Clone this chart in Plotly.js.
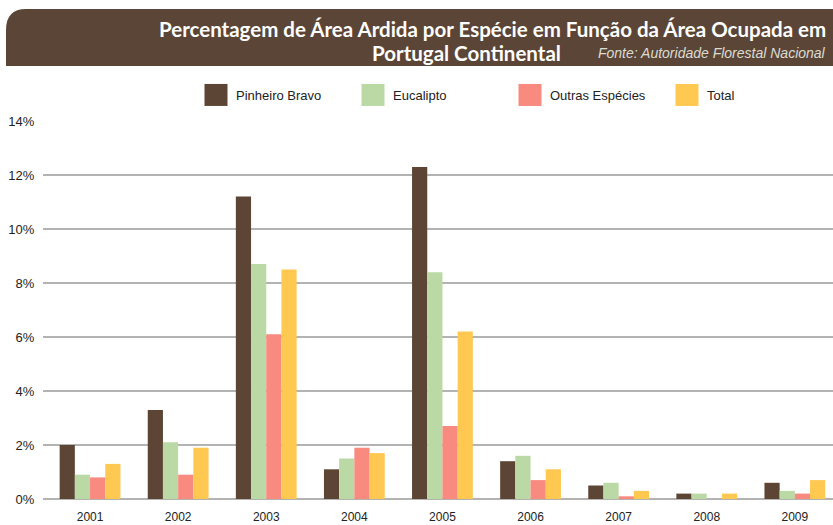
<!DOCTYPE html>
<html>
<head>
<meta charset="utf-8">
<script src="https://cdn.plot.ly/plotly-3.0.1.min.js"></script>
<style>
  html, body { margin: 0; padding: 0; background: #fff; }
  #chart { width: 833px; height: 525px; }
</style>
</head>
<body>
<div id="chart"></div>
<script>
// Anos
const years = ["2001", "2002", "2003", "2004", "2005", "2006", "2007", "2008", "2009"];

// Percentagens por espécie
const pinheiroBravo = [2.0, 3.3, 11.2, 1.1, 12.3, 1.4, 0.5, 0.2, 0.6];
const eucalipto     = [0.9, 2.1, 8.7, 1.5, 8.4, 1.6, 0.6, 0.2, 0.3];
const outras        = [0.8, 0.9, 6.1, 1.9, 2.7, 0.7, 0.1, 0.0, 0.2];
const total         = [1.3, 1.9, 8.5, 1.7, 6.2, 1.1, 0.3, 0.2, 0.7];

const seriesNames = ["Pinheiro Bravo", "Eucalipto", "Outras Espécies", "Total"];
const seriesColors = ["#5c4535", "#bad9a5", "#f88a80", "#ffc850"];

const yTicks = [0, 2, 4, 6, 8, 10, 12, 14];

const titleLine1 = "Percentagem de Área Ardida por Espécie em Função da Área Ocupada em";
const titleLine2 = "Portugal Continental";
const fonte = "Fonte: Autoridade Florestal Nacional";

const allValues = [pinheiroBravo, eucalipto, outras, total];

const traces = allValues.map((vals, i) => ({
  x: years,
  y: vals,
  type: "bar",
  name: seriesNames[i],
  marker: { color: seriesColors[i] },
  hoverinfo: "none"
}));

// área do gráfico: l=43, r=0, t=121, b=26 -> 790 x 378 px
const W = 790, H = 378, L = 43, T = 121;
const px = (x) => (x - L) / W;
const py = (y) => (T + H - y) / H;

// faixa do título com canto arredondado
const x0 = px(6), x1 = px(833), yt = py(9), yb = py(66);
const rx = 20 / W, ry = 21 / H;
const headerPath = `M ${x0},${yb} L ${x0},${yt - ry} Q ${x0},${yt} ${x0 + rx},${yt} L ${x1},${yt} L ${x1},${yb} Z`;

const titleFont = { family: "Lato, sans-serif", size: 20.5, color: "#fff" };

const layout = {
  width: 833,
  height: 525,
  margin: { l: L, r: 0, t: T, b: 26 },
  paper_bgcolor: "#fff",
  plot_bgcolor: "#fff",
  barmode: "group",
  bargap: 0.31,
  bargroupgap: 0,
  font: { family: "Liberation Sans, Arial, sans-serif", color: "#222" },
  xaxis: {
    type: "category",
    range: [-0.534, 8.433],
    showgrid: false,
    zeroline: false,
    showline: false,
    ticks: "outside",
    ticklen: 7,
    tickcolor: "rgba(0,0,0,0)",
    tickfont: { size: 12, color: "#222" }
  },
  yaxis: {
    range: [0, 14],
    tickvals: yTicks,
    ticktext: yTicks.map(v => v + "%"),
    showgrid: true,
    gridcolor: "#b3b3b3",
    gridwidth: 1.5,
    zeroline: true,
    zerolinecolor: "#b3b3b3",
    zerolinewidth: 1.5,
    showline: false,
    ticks: "outside",
    ticklen: 5,
    tickcolor: "rgba(0,0,0,0)",
    tickfont: { size: 13, color: "#222" }
  },
  showlegend: true,
  legend: {
    orientation: "h",
    x: px(196),
    xanchor: "left",
    y: py(95),
    yanchor: "middle",
    font: { size: 13, color: "#222" },
    itemwidth: 30,
    entrywidth: 112,
    bgcolor: "rgba(0,0,0,0)"
  },
  shapes: [{
    type: "path",
    xref: "paper",
    yref: "paper",
    path: headerPath,
    fillcolor: "#5b4537",
    line: { width: 0 },
    layer: "below"
  }],
  annotations: [
    {
      xref: "paper", yref: "paper",
      x: px(828), y: py(29),
      xanchor: "right", yanchor: "middle",
      text: "<b>" + titleLine1 + "</b>",
      showarrow: false,
      font: titleFont
    },
    {
      xref: "paper", yref: "paper",
      x: px(563), y: py(53),
      xanchor: "right", yanchor: "middle",
      text: "<b>" + titleLine2 + "</b>",
      showarrow: false,
      font: titleFont
    },
    {
      xref: "paper", yref: "paper",
      x: px(828), y: py(53),
      xanchor: "right", yanchor: "middle",
      text: "<i>" + fonte + "</i>",
      showarrow: false,
      font: { family: "Liberation Sans, Arial, sans-serif", size: 14, color: "#dcdcd2" }
    }
  ]
};

Plotly.newPlot("chart", traces, layout, { displayModeBar: false, staticPlot: true }).then(gd => {
  // quadrados maiores na legenda, como no original
  gd.querySelectorAll(".legendpoints path").forEach(p => p.setAttribute("d", "M11.5,11H-11.5V-11H11.5Z"));
});
</script>
</body>
</html>
